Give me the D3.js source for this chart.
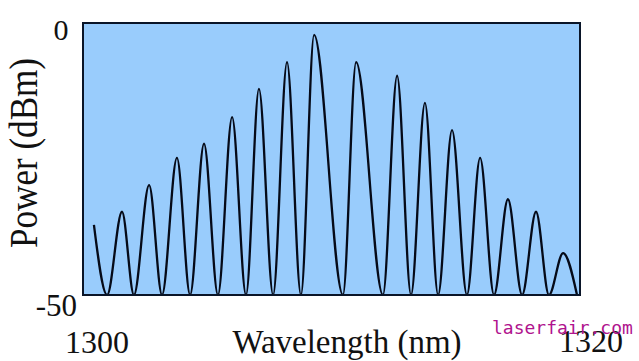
<!DOCTYPE html>
<html>
<head>
<meta charset="utf-8">
<script src="https://cdn.jsdelivr.net/npm/d3@7"></script>
<style>
  body { margin: 0; background: #fff; }
  svg text { font-family: "Liberation Serif", "Times New Roman", serif; fill: #111; }
</style>
</head>
<body>
<svg id="chart" width="639" height="361"></svg>
<script>
// extremes of the spectrum (nm, dBm)
var wavelength = [1300.44, 1300.97, 1301.57, 1302.05, 1302.66, 1303.18, 1303.78, 1304.31,
    1304.87, 1305.43, 1306.00, 1306.56, 1307.08, 1307.65, 1308.21, 1308.77, 1309.30,
    1310.46, 1310.99, 1312.07, 1312.64, 1313.20, 1313.76, 1314.29, 1314.85, 1315.45,
    1315.98, 1316.54, 1317.10, 1317.67, 1318.23, 1318.75, 1319.32, 1319.88];
var power = [-37.1, -50, -34.7, -50, -29.8, -50, -24.8, -50,
    -22.2, -50, -17.3, -50, -12.1, -50, -7.2, -50, -2.2,
    -50, -7.2, -50, -9.7, -50, -14.7, -50, -19.7, -50,
    -24.8, -50, -32.4, -50, -34.7, -50, -42.3, -50];
var xTicks = [1300, 1320];
var yTicks = [0, -50];

var svg = d3.select('#chart');
var plotL = 83, plotR = 580, plotT = 23, plotB = 295;

var x = d3.scaleLinear().domain([1300, 1320]).range([plotL, plotR]);
var y = d3.scaleLinear().domain([-50, 0]).range([plotB, plotT]);

svg.append('clipPath').attr('id', 'clip')
    .append('rect')
    .attr('x', plotL).attr('y', plotT)
    .attr('width', plotR - plotL).attr('height', plotB - plotT);

svg.append('rect')
    .attr('x', plotL).attr('y', plotT)
    .attr('width', plotR - plotL).attr('height', plotB - plotT)
    .attr('fill', '#99ccfc');

var line = d3.line()
    .x(function (d, i) { return x(wavelength[i]); })
    .y(function (d) { return y(d); })
    .curve(d3.curveMonotoneX);

svg.append('path')
    .datum(power)
    .attr('d', line)
    .attr('clip-path', 'url(#clip)')
    .attr('fill', 'none')
    .attr('stroke', '#050a18')
    .attr('stroke-width', 2.3);

svg.append('rect')
    .attr('x', plotL).attr('y', plotT)
    .attr('width', plotR - plotL).attr('height', plotB - plotT)
    .attr('fill', 'none')
    .attr('stroke', '#0a1528')
    .attr('stroke-width', 2);

// y tick labels
svg.append('text').text(yTicks[0])
    .attr('x', x(1300) - 22).attr('y', y(yTicks[0]) + 17)
    .attr('text-anchor', 'middle')
    .style('font-size', '30px');
svg.append('text').text(yTicks[1])
    .attr('x', x(1300) - 6).attr('y', y(yTicks[1]) + 21)
    .attr('text-anchor', 'end')
    .style('font-size', '31px');

// x tick labels
svg.append('text').text(xTicks[0])
    .attr('x', x(xTicks[0]) + 14).attr('y', 353)
    .attr('text-anchor', 'middle')
    .style('font-size', '32px');
svg.append('text').text(xTicks[1])
    .attr('x', x(xTicks[1]) + 11).attr('y', 352)
    .attr('text-anchor', 'middle')
    .style('font-size', '32px');

svg.append('text').text('Wavelength (nm)')
    .attr('x', 347).attr('y', 353)
    .attr('text-anchor', 'middle')
    .style('font-size', '33px');

svg.append('text').text('Power  (dBm)')
    .attr('transform', 'translate(37,153) rotate(-90)')
    .attr('text-anchor', 'middle')
    .attr('textLength', 190)
    .attr('lengthAdjust', 'spacingAndGlyphs')
    .style('font-size', '40px');

// watermark (sits over the 1320 label, as in the source image)
svg.append('text').text('laserfair.com')
    .attr('x', 492).attr('y', 334)
    .style('font-family', '"DejaVu Sans Mono", monospace')
    .style('font-size', '18px')
    .style('fill', '#b0138e');
</script>
</body>
</html>
